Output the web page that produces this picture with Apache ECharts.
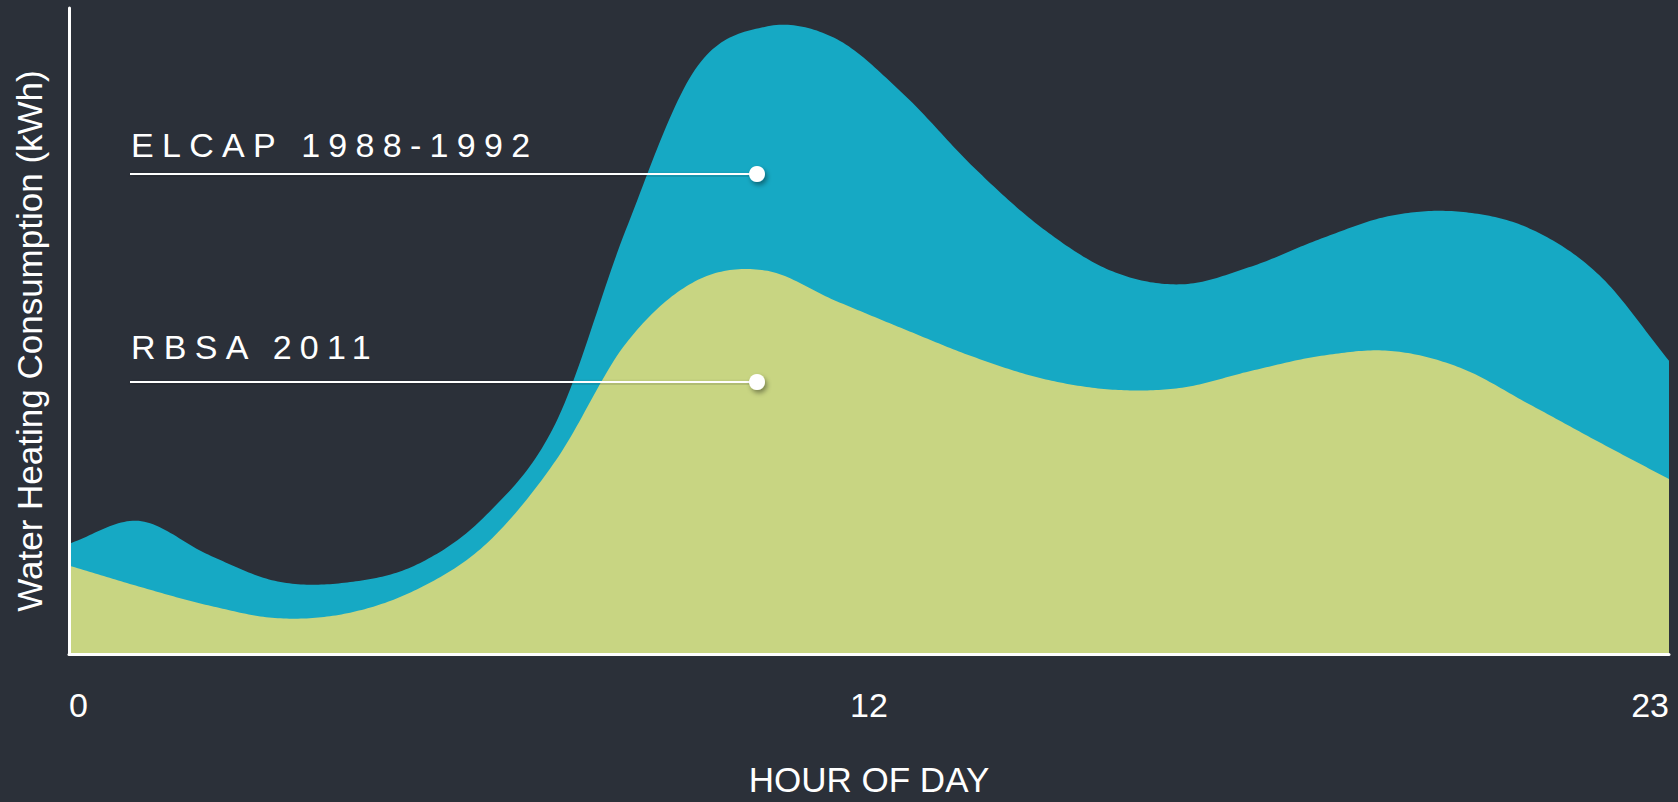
<!DOCTYPE html>
<html>
<head>
<meta charset="utf-8">
<script src="https://cdn.jsdelivr.net/npm/echarts@6/dist/echarts.min.js"></script>
<style>
html, body { margin: 0; padding: 0; background: #2b3039; }
#chart { width: 1678px; height: 802px; }
#chart text[style*="Liberation"] { letter-spacing: 8.3px; }
</style>
</head>
<body>
<div id="chart"></div>
<script>
// Hour of day
const hours = [0, 1, 2, 3, 4, 5, 6, 7, 8, 9, 10, 11, 12, 13, 14, 15, 16, 17, 18, 19, 20, 21, 22, 23];
// ELCAP 1988-1992 (kWh)
const elcap = [0.111, 0.134, 0.100, 0.073, 0.072, 0.090, 0.140, 0.233, 0.426, 0.588, 0.631, 0.620,
               0.563, 0.490, 0.428, 0.385, 0.372, 0.390, 0.418, 0.441, 0.445, 0.428, 0.381, 0.295];
// RBSA 2011 (kWh)
const rbsa = [0.089, 0.068, 0.049, 0.036, 0.041, 0.065, 0.111, 0.195, 0.312, 0.375, 0.386, 0.356,
              0.327, 0.299, 0.277, 0.266, 0.268, 0.285, 0.300, 0.305, 0.288, 0.251, 0.213, 0.176];
// X tick labels and where they sit on the axis
const tickValues = [0, 11.5, 23];
const tickLabels = ['0', '12', '23'];
const seriesNames = ['ELCAP 1988-1992', 'RBSA 2011'];
const seriesColors = ['#16a9c4', '#c8d582'];

const chart = echarts.init(document.getElementById('chart'), null, { renderer: 'svg' });

const pair = (arr) => hours.map((h, i) => [h, arr[i]]);

// Catmull-Rom spline through pixel points (rendering only)
function spline(pts, steps) {
  const out = [];
  const n = pts.length;
  const ext = (a, b) => [2 * a[0] - b[0], 2 * a[1] - b[1]];
  for (let i = 0; i < n - 1; i++) {
    const p0 = i > 0 ? pts[i - 1] : ext(pts[0], pts[1]);
    const p1 = pts[i], p2 = pts[i + 1];
    const p3 = i + 2 < n ? pts[i + 2] : ext(pts[n - 1], pts[n - 2]);
    for (let s = 0; s < steps; s++) {
      const t = s / steps, t2 = t * t, t3 = t2 * t;
      const f = (a, b, c, d) => 0.5 * (2 * b + (-a + c) * t + (2 * a - 5 * b + 4 * c - d) * t2 + (-a + 3 * b - 3 * c + d) * t3);
      out.push([f(p0[0], p1[0], p2[0], p3[0]), f(p0[1], p1[1], p2[1], p3[1])]);
    }
  }
  out.push(pts[n - 1]);
  return out;
}

function areaRenderer(values, color) {
  return function (params, api) {
    if (params.dataIndex !== 0) return;
    const pts = values.map((v, i) => api.coord([hours[i], v]));
    const curve = spline(pts, 24);
    const b0 = api.coord([hours[0], 0]);
    const b1 = api.coord([hours[hours.length - 1], 0]);
    return {
      type: 'polygon',
      shape: { points: curve.concat([b1, b0]) },
      style: { fill: color }
    };
  };
}

const shadowed = { shadowBlur: 4, shadowColor: 'rgba(0,0,0,0.35)', shadowOffsetX: 1, shadowOffsetY: 2 };

const option = {
  backgroundColor: '#2b3039',
  animation: false,
  textStyle: { fontFamily: 'Arial, sans-serif' },
  grid: { left: 69, right: 9, top: 8, bottom: 144, containLabel: false },
  xAxis: {
    type: 'value',
    min: 0,
    max: 23,
    z: 5,
    name: 'HOUR OF DAY',
    nameLocation: 'middle',
    nameGap: 108,
    nameTextStyle: { color: '#ffffff', fontSize: 35, fontFamily: 'Arial, sans-serif' },
    axisLine: { show: true, lineStyle: { color: '#ffffff', width: 3 } },
    axisTick: { show: false },
    splitLine: { show: false },
    axisLabel: {
      customValues: tickValues,
      formatter: (v) => tickLabels[tickValues.indexOf(v)],
      color: '#ffffff',
      fontSize: 34,
      fontFamily: 'Arial, sans-serif',
      margin: 34,
      alignMinLabel: 'left',
      alignMaxLabel: 'right',
      showMinLabel: true,
      showMaxLabel: true
    }
  },
  yAxis: {
    type: 'value',
    min: 0,
    max: 0.65,
    z: 5,
    name: 'Water Heating Consumption (kWh)',
    nameLocation: 'middle',
    nameRotate: 90,
    nameGap: 22,
    nameTextStyle: { color: '#ffffff', fontSize: 35, fontFamily: 'Arial, sans-serif', padding: [0, 20, 0, 0] },
    axisLine: { show: true, lineStyle: { color: '#ffffff', width: 3 } },
    axisTick: { show: false },
    axisLabel: { show: false },
    splitLine: { show: false }
  },
  series: [
    {
      name: seriesNames[0],
      type: 'custom',
      data: pair(elcap),
      encode: { x: 0, y: 1 },
      renderItem: areaRenderer(elcap, seriesColors[0]),
      z: 2
    },
    {
      name: seriesNames[1],
      type: 'custom',
      data: pair(rbsa),
      encode: { x: 0, y: 1 },
      renderItem: areaRenderer(rbsa, seriesColors[1]),
      z: 3
    }
  ],
  graphic: [
    {
      type: 'text', x: 131, y: 145, z: 100,
      style: { text: seriesNames[0], fill: '#ffffff', fontSize: 34, fontFamily: 'Liberation Sans', align: 'left', verticalAlign: 'middle' }
    },
    {
      type: 'rect', z: 100,
      shape: { x: 130, y: 173, width: 627, height: 2 },
      style: Object.assign({ fill: '#ffffff' }, shadowed)
    },
    {
      type: 'circle', z: 101,
      shape: { cx: 757, cy: 174, r: 8 },
      style: { fill: '#ffffff', shadowBlur: 5, shadowColor: 'rgba(0,0,0,0.4)', shadowOffsetX: 2, shadowOffsetY: 3 }
    },
    {
      type: 'text', x: 131, y: 347, z: 100,
      style: { text: seriesNames[1], fill: '#ffffff', fontSize: 34, fontFamily: 'Liberation Sans', align: 'left', verticalAlign: 'middle' }
    },
    {
      type: 'rect', z: 100,
      shape: { x: 130, y: 381, width: 627, height: 2 },
      style: Object.assign({ fill: '#ffffff' }, shadowed)
    },
    {
      type: 'circle', z: 101,
      shape: { cx: 757, cy: 382, r: 8 },
      style: { fill: '#ffffff', shadowBlur: 5, shadowColor: 'rgba(0,0,0,0.4)', shadowOffsetX: 2, shadowOffsetY: 3 }
    }
  ]
};

chart.setOption(option);
</script>
</body>
</html>
